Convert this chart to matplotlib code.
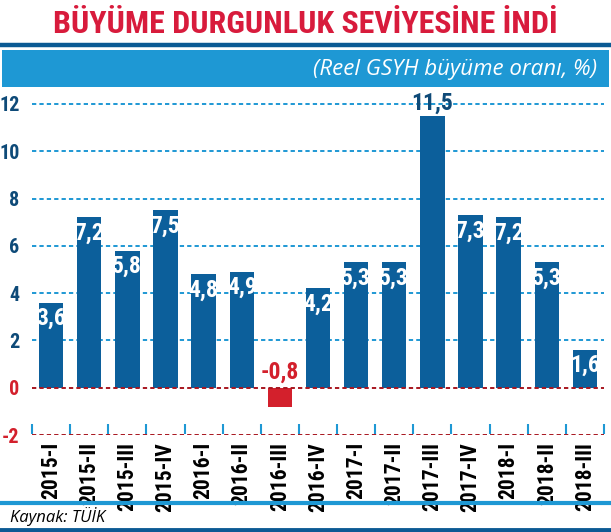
import matplotlib
matplotlib.use("Agg")
import matplotlib.pyplot as plt
from matplotlib.lines import Line2D
from matplotlib import font_manager as fm

categories = ["2015-I", "2015-II", "2015-III", "2015-IV", "2016-I", "2016-II", "2016-III",
              "2016-IV", "2017-I", "2017-II", "2017-III", "2017-IV", "2018-I", "2018-II", "2018-III"]
growth = [3.6, 7.2, 5.8, 7.5, 4.8, 4.9, -0.8, 4.2, 5.3, 5.3, 11.5, 7.3, 7.2, 5.3, 1.6]
yticks = [-2, 0, 2, 4, 6, 8, 10, 12]
title = "BÜYÜME DURGUNLUK SEVİYESİNE İNDİ"
subtitle = "(Reel GSYH büyüme oranı, %)"
source = "Kaynak: TÜİK"

# pick a condensed bold font if one is installed
files = [f.fname for f in fm.fontManager.ttflist]
prefs = ["LiberationSansNarrow-Bold.", "RobotoCondensed-Bold.", "DejaVuSansCondensed-Bold.",
         "OpenSans_Condensed-Bold", "OpenSansCondensed-Bold"]
cond_file = None
for p in prefs:
    for f in files:
        if p.lower() in f.lower().replace(" ", ""):
            cond_file = f
            break
    if cond_file:
        break
if cond_file is None:
    for f in files:
        fl = f.lower()
        if ("condensed" in fl or "narrow" in fl) and "bold" in fl and "italic" not in fl:
            cond_file = f
            break

def cfont(size):
    if cond_file:
        return fm.FontProperties(fname=cond_file, size=size)
    return fm.FontProperties(family="DejaVu Sans", weight="bold", stretch="condensed", size=size)

RED_T = "#d81b3c"
DARK = "#0b5a94"
BAR = "#0c5f9b"
LIGHT = "#1e98d4"
NEG = "#d3202c"
ZRED = "#a8161f"
TXT_BLUE = "#0e4a78"

W, H = 611, 532
fig = plt.figure(figsize=(W / 100, H / 100), dpi=100)

def fy(py):
    return 1 - py / H

# header
t = fig.text(0.5, fy(24), title, ha="center", va="center", color=RED_T,
             fontproperties=cfont(26))
fig.canvas.draw()
wpx = t.get_window_extent().width
t.set_fontproperties(cfont(min(30, 26 * 505 / wpx)))

fig.add_artist(Line2D([2 / W, 609 / W], [fy(45), fy(45)], color=DARK, lw=3.2))
band = plt.Rectangle((2 / W, fy(87)), 607 / W, 37 / H, transform=fig.transFigure,
                     facecolor=LIGHT, edgecolor="none")
fig.add_artist(band)
fig.text(597 / W, fy(69), subtitle, ha="right", va="center", color="white",
         fontsize=16, style="italic", family=["Open Sans", "DejaVu Sans"])

# footer
fig.add_artist(Line2D([2 / W, 609 / W], [fy(503), fy(503)], color=LIGHT, lw=3))
fig.text(10 / W, fy(516), source, ha="left", va="center", color="black",
         fontsize=12, style="italic", family=["Open Sans", "DejaVu Sans"])
fig.add_artist(Line2D([0, 1], [fy(530), fy(530)], color=DARK, lw=3.5))

# axes
ytop = 12.4
ax = fig.add_axes([32 / W, fy(435), 572 / W, (435 - 94.5) / H])
ax.set_xlim(-0.5, len(categories) - 0.5)
ax.set_ylim(-2, ytop)
for s in ax.spines.values():
    s.set_visible(False)

for v in yticks:
    if v > 0:
        ax.axhline(v, color=LIGHT, lw=1.4, ls=(0, (2.2, 1.6)), zorder=1)
    else:
        ax.axhline(v, color=ZRED, lw=1.4, ls=(0, (2.2, 1.6)), zorder=3)

x = list(range(len(categories)))
colors = [BAR if v >= 0 else NEG for v in growth]
ax.bar(x, growth, width=0.64, color=colors, zorder=2)

for i, v in enumerate(growth):
    lab = f"{v:.1f}".replace(".", ",")
    if v < 0:
        ax.annotate(lab, (i, 0), xytext=(0, 3.0), textcoords="offset points",
                    ha="center", va="bottom", color=NEG, fontproperties=cfont(17), zorder=4)
    elif v > ytop - 1.2:
        ax.annotate(lab, (i, v), xytext=(0, 0.5), textcoords="offset points",
                    ha="center", va="bottom", color=TXT_BLUE, fontproperties=cfont(17), zorder=4)
    else:
        ax.annotate(lab, (i, v), xytext=(0, -3.0), textcoords="offset points",
                    ha="center", va="top", color="white", fontproperties=cfont(17), zorder=4)

# boundary ticks
ax.vlines([b - 0.5 for b in range(len(categories) + 1)], -1.95, -1.55,
          color=LIGHT, lw=1.5, zorder=3, clip_on=False)

ax.set_yticks(yticks)
ax.set_yticklabels([str(v) for v in yticks])
for tl, v in zip(ax.get_yticklabels(), yticks):
    tl.set_fontproperties(cfont(14.5))
    tl.set_color(TXT_BLUE if v > 0 else NEG)
ax.tick_params(axis="y", length=0, pad=9)
ax.set_xticks(x)
ax.set_xticklabels(categories, rotation=90)
for tl in ax.get_xticklabels():
    tl.set_fontproperties(cfont(15.5))
    tl.set_color("black")
ax.tick_params(axis="x", length=0, pad=5)

fig.savefig("out.png", dpi=100)
